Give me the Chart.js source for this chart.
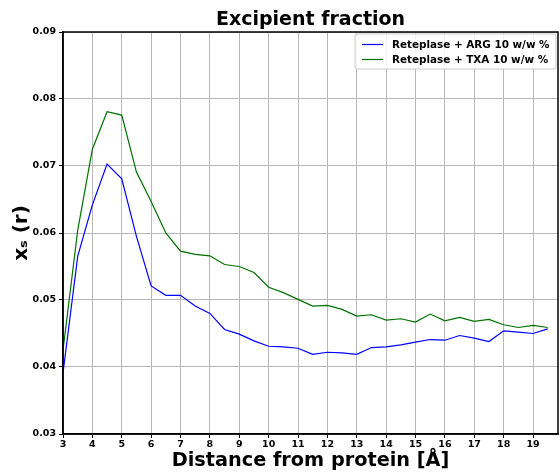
<!DOCTYPE html>
<html><head><meta charset="utf-8">
<script src="https://cdn.jsdelivr.net/npm/chart.js@4"></script>
<style>html,body{margin:0;padding:0;background:#fff}canvas{display:block}</style>
</head><body>
<canvas id="c" width="560" height="472"></canvas>
<script>
const distances = [3,3.5,4,4.5,5,5.5,6,6.5,7,7.5,8,8.5,9,9.5,10,10.5,11,11.5,12,12.5,13,13.5,14,14.5,15,15.5,16,16.5,17,17.5,18,18.5,19,19.5];
const argValues = [0.0391,0.0565,0.0642,0.0703,0.0681,0.0595,0.0521,0.0507,0.0507,0.0491,0.0480,0.0456,0.0449,0.0439,0.0431,0.0430,0.0428,0.0419,0.0422,0.0421,0.0419,0.0429,0.0430,0.0433,0.0437,0.0441,0.0440,0.0447,0.0443,0.0438,0.0454,0.0452,0.0450,0.0457];
const txaValues = [0.0425,0.0604,0.0725,0.0781,0.0776,0.0691,0.0647,0.0600,0.0573,0.0568,0.0566,0.0553,0.0550,0.0541,0.0519,0.0511,0.0501,0.0491,0.0492,0.0486,0.0476,0.0478,0.0470,0.0472,0.0467,0.0479,0.0469,0.0474,0.0468,0.0471,0.0463,0.0459,0.0462,0.0459];
const xTicks = [3,4,5,6,7,8,9,10,11,12,13,14,15,16,17,18,19];
const yTicks = [0.03,0.04,0.05,0.06,0.07,0.08,0.09];
const seriesLabels = ['Reteplase + ARG 10 w/w %','Reteplase + TXA 10 w/w %'];
const seriesColors = ['#0000ff','#007000'];
const titleText = 'Excipient fraction';

const FONT = "'DejaVu Sans', sans-serif";

const decor = {
  id: 'decor',
  afterDraw(chart) {
    const ctx = chart.ctx, a = chart.chartArea;
    ctx.save();
    ctx.strokeStyle = '#000';
    ctx.lineWidth = 1.5;
    ctx.strokeRect(a.left, a.top, a.right - a.left, a.bottom - a.top);
    ctx.fillStyle = '#000';
    ctx.font = "bold 19px " + FONT;
    ctx.textAlign = 'center';
    ctx.textBaseline = 'middle';
    ctx.fillText(titleText, (a.left + a.right) / 2, 20.5);
    const bw = 201, bh = 35;
    const bx = a.right - 2 - bw, by = a.top + 2;
    ctx.beginPath();
    ctx.roundRect(bx, by, bw, bh, 2);
    ctx.fillStyle = 'rgba(255,255,255,0.85)';
    ctx.fill();
    ctx.strokeStyle = '#cccccc';
    ctx.lineWidth = 1;
    ctx.stroke();
    ctx.font = "bold 10.4px " + FONT;
    ctx.textAlign = 'left';
    for (let i = 0; i < seriesLabels.length; i++) {
      const y = by + 10.5 + i * 15;
      ctx.beginPath();
      ctx.moveTo(bx + 7, y);
      ctx.lineTo(bx + 28, y);
      ctx.strokeStyle = seriesColors[i];
      ctx.lineWidth = 1.2;
      ctx.stroke();
      ctx.fillStyle = '#000';
      ctx.fillText(seriesLabels[i], bx + 37, y + 0.5);
    }
    ctx.restore();
  }
};

new Chart(document.getElementById('c'), {
  type: 'line',
  data: {
    datasets: [
      { label: seriesLabels[0], data: distances.map((x, i) => ({x, y: argValues[i]})), borderColor: seriesColors[0], borderWidth: 1.2, pointRadius: 0, fill: false, tension: 0 },
      { label: seriesLabels[1], data: distances.map((x, i) => ({x, y: txaValues[i]})), borderColor: seriesColors[1], borderWidth: 1.2, pointRadius: 0, fill: false, tension: 0 }
    ]
  },
  options: {
    responsive: false,
    animation: false,
    devicePixelRatio: 1,
    layout: { padding: { top: 32, right: 2, bottom: 0, left: 0 } },
    plugins: { legend: { display: false }, title: { display: false }, tooltip: { enabled: false } },
    scales: {
      x: {
        type: 'linear', min: 3, max: 19.85,
        afterBuildTicks: s => { s.ticks = xTicks.map(v => ({value: v})); },
        afterFit: s => { s.height = 38; },
        grid: { color: '#b8b8b8', lineWidth: 1, tickLength: 4, tickColor: '#000', drawTicks: true },
        border: { display: true, color: '#000', width: 1.5 },
        ticks: { color: '#000', font: { family: FONT, size: 9.5, weight: 'bold' }, padding: 1, maxRotation: 0, autoSkip: false, callback: v => String(v) },
        title: { display: true, text: 'Distance from protein [Å]', color: '#000', font: { family: FONT, size: 19.3, weight: 'bold', lineHeight: 1 }, padding: { top: 0, bottom: 1 } }
      },
      y: {
        type: 'linear', min: 0.03, max: 0.09,
        afterBuildTicks: s => { s.ticks = yTicks.map(v => ({value: v})); },
        afterFit: s => { s.width = 63; },
        grid: { color: '#b8b8b8', lineWidth: 1, tickLength: 4, tickColor: '#000', drawTicks: true },
        border: { display: true, color: '#000', width: 1.5 },
        ticks: { color: '#000', font: { family: FONT, size: 9.5, weight: 'bold' }, padding: 3, callback: v => v.toFixed(2) },
        title: { display: true, text: 'xₛ (r)', color: '#000', font: { family: FONT, size: 20, weight: 'bold', lineHeight: 1 }, padding: { top: 12, bottom: 0 } }
      }
    }
  },
  plugins: [decor]
});
</script>
</body></html>
